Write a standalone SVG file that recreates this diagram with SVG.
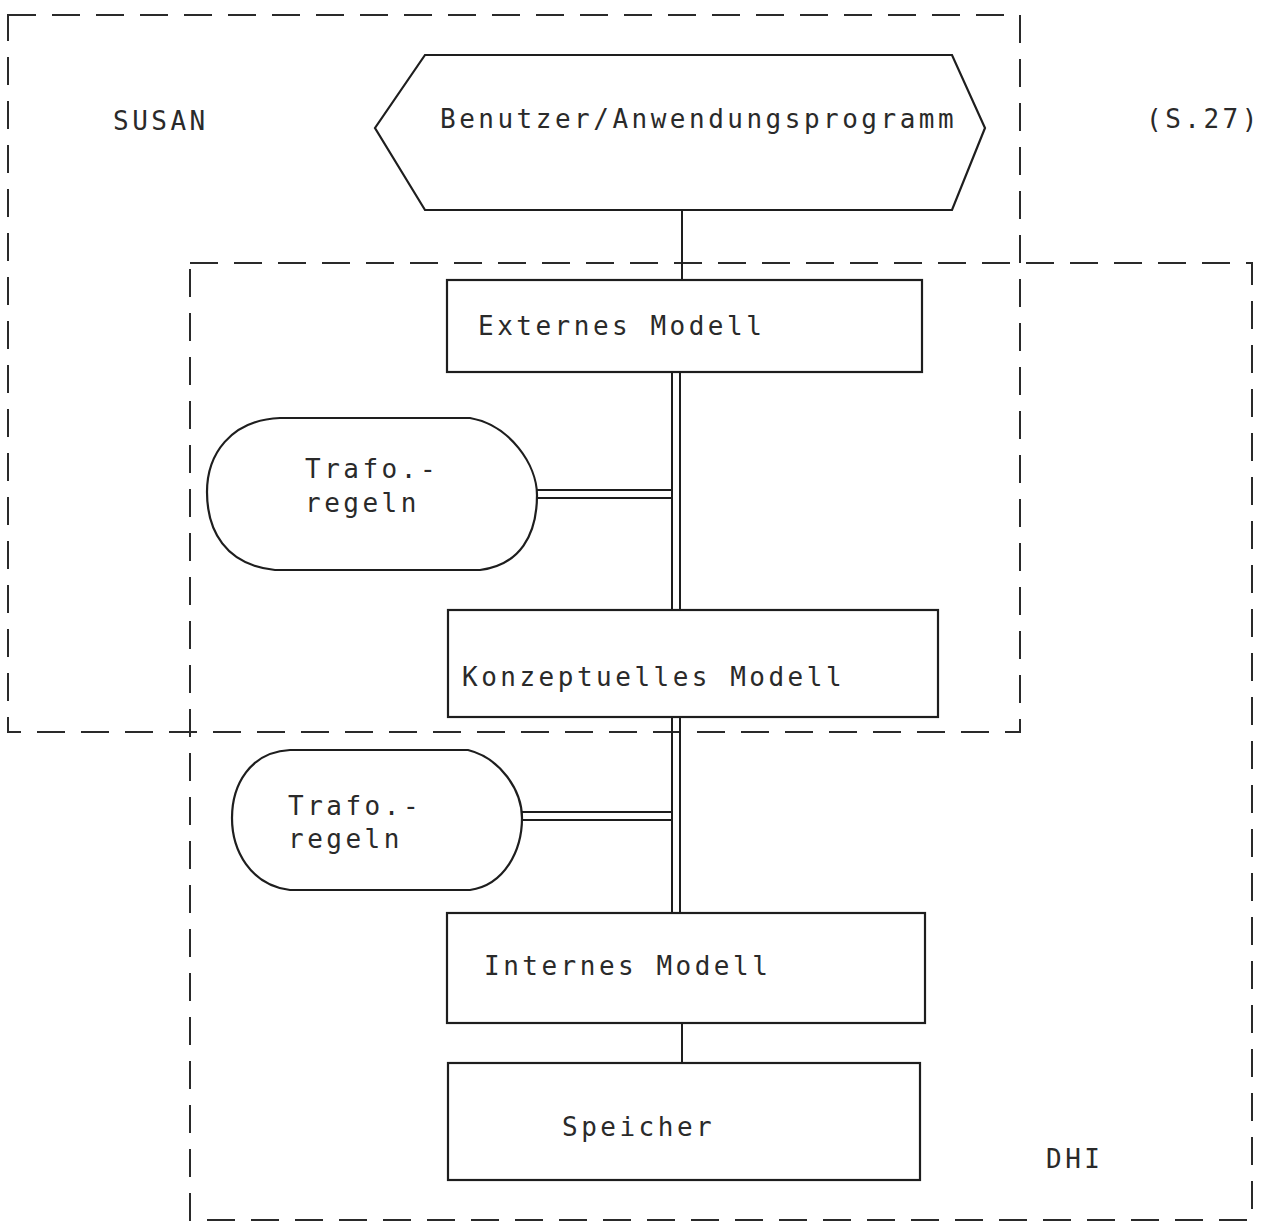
<svg xmlns="http://www.w3.org/2000/svg" width="1265" height="1229" viewBox="0 0 1265 1229">
<style>
.bg{fill:#ffffff}
.frame{fill:none;stroke:#2a2a2a;stroke-width:2;stroke-dasharray:28 16}
.shape{fill:none;stroke:#1e1e1e;stroke-width:2.2}
.conn{fill:none;stroke:#1e1e1e;stroke-width:2}
.t{font-family:"DejaVu Sans Mono","Liberation Mono",monospace;font-size:26px;fill:#2a2a2a;letter-spacing:3.5px}
</style>
<rect class="bg" x="0" y="0" width="1265" height="1229"/>
<g id="susan-frame">
<rect class="frame" x="8" y="15" width="1012" height="717"/>
<text class="t" x="113" y="130">SUSAN</text>
</g>
<g id="dhi-frame">
<rect class="frame" x="190" y="263" width="1062" height="957"/>
<text class="t" x="1046" y="1168">DHI</text>
</g>
<text class="t" x="1146" y="128">(S.27)</text>
<g id="connectors">
<line class="conn" x1="682" y1="210" x2="682" y2="280"/>
<line class="conn" x1="672" y1="372" x2="672" y2="610"/>
<line class="conn" x1="680" y1="372" x2="680" y2="610"/>
<line class="conn" x1="537" y1="490" x2="672" y2="490"/>
<line class="conn" x1="537" y1="498" x2="672" y2="498"/>
<line class="conn" x1="672" y1="717" x2="672" y2="913"/>
<line class="conn" x1="680" y1="717" x2="680" y2="913"/>
<line class="conn" x1="522" y1="812" x2="672" y2="812"/>
<line class="conn" x1="522" y1="820" x2="672" y2="820"/>
<line class="conn" x1="682" y1="1023" x2="682" y2="1063"/>
</g>
<g id="benutzer">
<polygon class="shape" points="425,55 952,55 985,128 952,210 425,210 375,128"/>
<text class="t" x="440" y="128">Benutzer/Anwendungsprogramm</text>
</g>
<g id="externes">
<rect class="shape" x="447" y="280" width="475" height="92"/>
<text class="t" x="478" y="335">Externes Modell</text>
</g>
<g id="trafo1">
<path class="shape" d="M280,418 H470 C510,425 537,465 537,495 C537,535 520,565 480,570 H275 C225,565 207,530 207,492 C207,455 230,420 280,418 Z"/>
<text class="t" x="305" y="478">Trafo.-</text>
<text class="t" x="305" y="512">regeln</text>
</g>
<g id="konzeptuelles">
<rect class="shape" x="448" y="610" width="490" height="107"/>
<text class="t" x="462" y="686">Konzeptuelles Modell</text>
</g>
<g id="trafo2">
<path class="shape" d="M290,750 H468 C500,758 522,790 522,818 C522,850 505,885 470,890 H290 C250,885 232,850 232,818 C232,785 250,752 290,750 Z"/>
<text class="t" x="288" y="815">Trafo.-</text>
<text class="t" x="288" y="848">regeln</text>
</g>
<g id="internes">
<rect class="shape" x="447" y="913" width="478" height="110"/>
<text class="t" x="484" y="975">Internes Modell</text>
</g>
<g id="speicher">
<rect class="shape" x="448" y="1063" width="472" height="117"/>
<text class="t" x="562" y="1136">Speicher</text>
</g>
</svg>
